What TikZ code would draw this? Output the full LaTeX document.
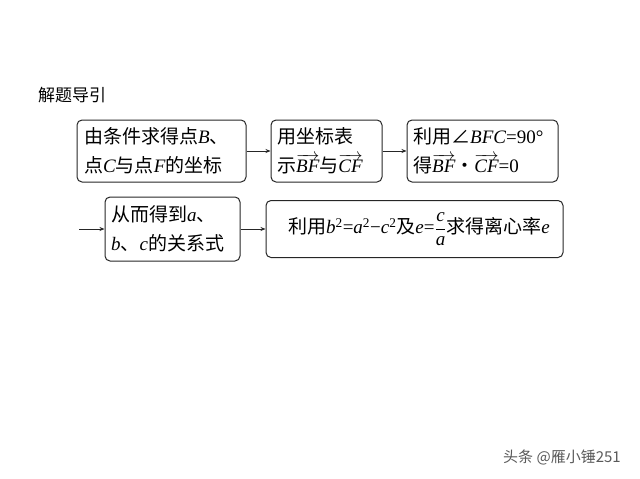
\documentclass[tikz,border=0pt]{standalone}
\usepackage{amsmath}
\usepackage{fontspec}
\setmainfont{Noto Sans CJK SC}
\newfontfamily\lat{Liberation Serif}
\newcommand\vi[1]{{\lat\itshape #1}}
\newcommand\lt[1]{{\lat #1}}
\newcommand\vecx[1]{$\overrightarrow{\mbox{\vi{#1}}}$}
\usetikzlibrary{arrows.meta}
\begin{document}
\begin{tikzpicture}[x=1pt,y=-1pt,
  box/.style={draw=black!85, rounded corners=5pt, line width=1pt, inner sep=0pt},
  txt/.style={inner sep=0pt, align=left, font=\fontsize{19}{29}\selectfont},
  arr/.style={-{Stealth[length=5pt,width=4pt]}, line width=0.8pt, draw=black!85}]
\useasboundingbox (0,0) rectangle (640,479);
\node[inner sep=0pt, font=\fontsize{17}{17}\selectfont] (title) at (72,95) {解题导引};
% row 1
\node[box, minimum width=169pt, minimum height=62pt] (b1) at (161.5,151) {};
\node[txt, anchor=west] (t1) at (84,151) {由条件求得点\vi{B}、\\点\vi{C}与点\vi{F}的坐标};
\node[box, minimum width=111pt, minimum height=62pt] (b2) at (326.5,151) {};
\node[txt, anchor=west] (t2) at (277,151) {用坐标表\\示\vecx{BF}与\vecx{CF}};
\node[box, minimum width=151pt, minimum height=62pt] (b3) at (482.5,151) {};
\node[txt, anchor=west] (t3) at (413,151) {利用∠\vi{BFC}\lt{=90°}\\得\vecx{BF}・\vecx{CF}\lt{=0}};
\draw[arr] (b1.east) -- (b2.west);
\draw[arr] (b2.east) -- (b3.west);
% row 2
\coordinate (s4) at (79,229);
\node[box, minimum width=135pt, minimum height=64pt] (b4) at (172.5,229) {};
\node[txt, anchor=west] (t4) at (111,229) {从而得到\vi{a}、\\\vi{b}、\vi{c}的关系式};
\node[box, minimum width=297pt, minimum height=57pt] (b5) at (414.5,229) {};
\node[txt] (t5) at (419,229) {利用\vi{b}\lt{\textsuperscript{2}=}\vi{a}\lt{\textsuperscript{2}−}\vi{c}\lt{\textsuperscript{2}}及\vi{e}\lt{=}$\dfrac{\mbox{\vi{c}}}{\mbox{\vi{a}}}$求得离心率\vi{e}};
\draw[arr] (s4) -- (b4.west);
\draw[arr] (b4.east) -- (b5.west);
\node[inner sep=0pt, text=black!65, font=\fontsize{15}{15}\selectfont] (wm) at (562,457) {头条 @雁小锤251};
\end{tikzpicture}
\end{document}
